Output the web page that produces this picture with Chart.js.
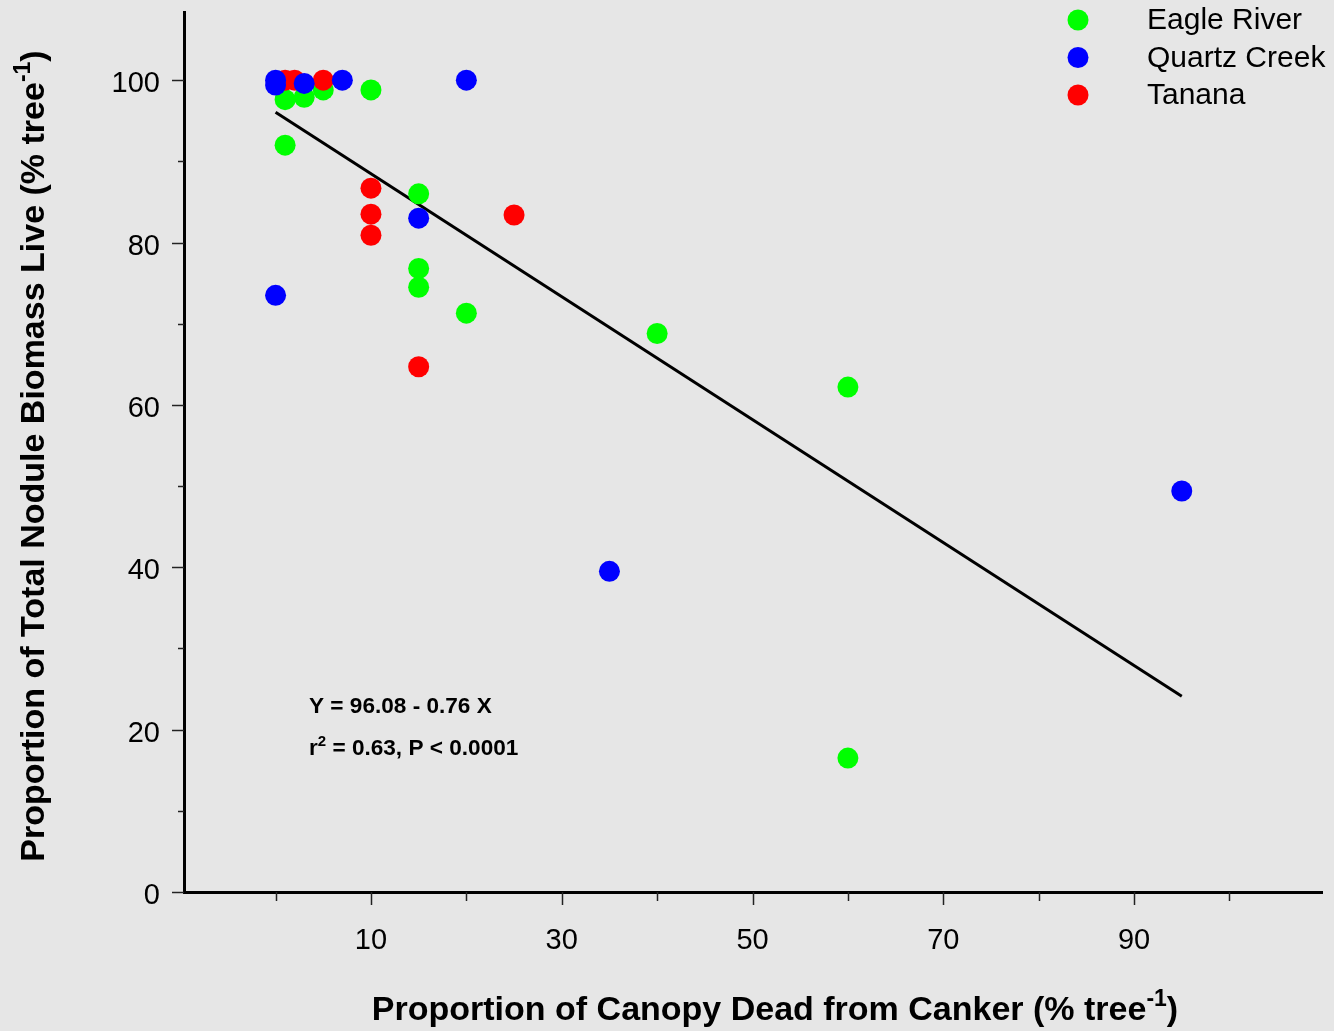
<!DOCTYPE html>
<html>
<head>
<meta charset="utf-8">
<script src="https://cdn.jsdelivr.net/npm/chart.js@4.4.0/dist/chart.umd.min.js"></script>
<style>
html, body { margin: 0; padding: 0; background: #e6e6e6; }
</style>
</head>
<body>
<canvas id="myChart" width="1334" height="1031"></canvas>
<script>
// data
var eagleX = [1, 1, 3, 5, 10, 15, 15, 15, 20, 40, 60, 60];
var eagleY = [97.6, 92.0, 97.9, 98.8, 98.8, 86.0, 76.8, 74.5, 71.3, 68.8, 62.2, 16.5];

var quartzX = [0, 0, 3, 7, 20, 15, 0, 35, 95];
var quartzY = [100, 99.4, 99.6, 100, 100, 83.0, 73.5, 39.5, 49.4];

var tananaX = [1, 2, 5, 10, 10, 10, 25, 15];
var tananaY = [100, 100, 100, 86.7, 83.5, 80.9, 83.4, 64.7];

// fitted line end points
var fitX = [0, 95];
var fitY = [96.06, 24.1];

var seriesNames = ['Eagle River', 'Quartz Creek', 'Tanana'];
var seriesColors = ['#00ff00', '#0000ff', '#ff0000'];

var xTickValues = [0, 10, 20, 30, 40, 50, 60, 70, 80, 90, 100];
var xTickLabels = [10, 30, 50, 70, 90];
var yTickValues = [0, 10, 20, 30, 40, 50, 60, 70, 80, 90, 100];
var yTickLabels = [0, 20, 40, 60, 80, 100];

var eqLine1 = 'Y = 96.08 - 0.76 X';

var FONT = '"Liberation Sans", Arial, sans-serif';

function pts(xs, ys) {
	var out = [];
	for (var i = 0; i < xs.length; i++) out.push({x: xs[i], y: ys[i]});
	return out;
}

// text with a superscript part: [before, sup, after]
function drawSupText(ctx, parts, size, supSize, x, y, align) {
	ctx.font = 'bold ' + size + 'px ' + FONT;
	var w1 = ctx.measureText(parts[0]).width;
	var w3 = ctx.measureText(parts[2]).width;
	ctx.font = 'bold ' + supSize + 'px ' + FONT;
	var w2 = ctx.measureText(parts[1]).width;
	var total = w1 + w2 + w3;
	var sx = align === 'center' ? x - total / 2 : x;
	ctx.textAlign = 'left';
	ctx.textBaseline = 'alphabetic';
	ctx.font = 'bold ' + size + 'px ' + FONT;
	ctx.fillText(parts[0], sx, y);
	ctx.font = 'bold ' + supSize + 'px ' + FONT;
	ctx.fillText(parts[1], sx + w1, y - size * 0.42);
	ctx.font = 'bold ' + size + 'px ' + FONT;
	ctx.fillText(parts[2], sx + w1 + w2, y);
}

var extras = {
	id: 'extras',
	beforeDraw: function(chart) {
		var ctx = chart.ctx;
		ctx.save();
		ctx.fillStyle = '#e6e6e6';
		ctx.fillRect(0, 0, chart.width, chart.height);
		ctx.restore();
	},
	afterDraw: function(chart) {
		var ctx = chart.ctx;
		var xs = chart.scales.x, ys = chart.scales.y;
		var area = chart.chartArea;
		ctx.save();
		ctx.strokeStyle = '#222';
		ctx.lineWidth = 1.5;
		// tick marks
		xTickValues.forEach(function(v) {
			var px = Math.round(xs.getPixelForValue(v)) + 0.5;
			var len = xTickLabels.indexOf(v) >= 0 ? 13 : 9;
			ctx.beginPath();
			ctx.moveTo(px, area.bottom);
			ctx.lineTo(px, area.bottom + len);
			ctx.stroke();
		});
		yTickValues.forEach(function(v) {
			var py = Math.round(ys.getPixelForValue(v)) + 0.5;
			var len = yTickLabels.indexOf(v) >= 0 ? 12 : 6;
			ctx.beginPath();
			ctx.moveTo(area.left, py);
			ctx.lineTo(area.left - len, py);
			ctx.stroke();
		});

		// legend
		ctx.textAlign = 'left';
		ctx.textBaseline = 'middle';
		ctx.font = '30px ' + FONT;
		var rows = [20, 57.5, 95];
		for (var i = 0; i < seriesNames.length; i++) {
			ctx.fillStyle = seriesColors[i];
			ctx.beginPath();
			ctx.arc(1078, rows[i], 10.5, 0, Math.PI * 2);
			ctx.fill();
			ctx.fillStyle = '#000';
			ctx.fillText(seriesNames[i], 1147, rows[i] + 1);
		}

		// equation
		ctx.fillStyle = '#000';
		ctx.font = 'bold 22.6px ' + FONT;
		ctx.textBaseline = 'alphabetic';
		ctx.fillText(eqLine1, 309, 713);
		drawSupText(ctx, ['r', '2', ' = 0.63, P < 0.0001'], 22.6, 15, 309, 755, 'left');

		// axis titles
		drawSupText(ctx, ['Proportion of Canopy Dead from Canker (% tree', '-1', ')'], 34, 23, 775, 1020, 'center');
		ctx.save();
		ctx.translate(44, 456);
		ctx.rotate(-Math.PI / 2);
		drawSupText(ctx, ['Proportion of Total Nodule Biomass Live (% tree', '-1', ')'], 34, 23, 0, 0, 'center');
		ctx.restore();
		ctx.restore();
	}
};

var ctx = document.getElementById('myChart').getContext('2d');
var chart = new Chart(ctx, {
	type: 'scatter',
	data: {
		datasets: [
			{
				label: seriesNames[0],
				data: pts(eagleX, eagleY),
				backgroundColor: seriesColors[0],
				borderWidth: 0,
				pointRadius: 10.5,
				order: 2
			},
			{
				label: seriesNames[1],
				data: pts(quartzX, quartzY),
				backgroundColor: seriesColors[1],
				borderWidth: 0,
				pointRadius: 10.5,
				order: 0
			},
			{
				label: seriesNames[2],
				data: pts(tananaX, tananaY),
				backgroundColor: seriesColors[2],
				borderWidth: 0,
				pointRadius: 10.5,
				order: 1
			},
			{
				label: 'fit',
				data: pts(fitX, fitY),
				showLine: true,
				borderColor: '#000',
				borderWidth: 3,
				pointRadius: 0,
				fill: false,
				order: 3
			}
		]
	},
	options: {
		responsive: false,
		animation: false,
		devicePixelRatio: 1,
		layout: { autoPadding: false, padding: { top: 12, right: 12, left: 0, bottom: 0 } },
		plugins: {
			legend: { display: false },
			tooltip: { enabled: false }
		},
		scales: {
			x: {
				type: 'linear',
				min: -9.6,
				max: 109.7,
				afterBuildTicks: function(scale) {
					scale.ticks = xTickLabels.map(function(v) { return {value: v}; });
				},
				afterFit: function(scale) {
					scale.height = 139;
					scale.paddingLeft = 0;
					scale.paddingRight = 0;
				},
				grid: { display: false, drawTicks: false },
				border: { display: true, color: '#000', width: 3 },
				ticks: {
					padding: 32,
					color: '#000',
					font: { family: FONT, size: 29 }
				}
			},
			y: {
				type: 'linear',
				min: 0,
				max: 108.4,
				afterBuildTicks: function(scale) {
					scale.ticks = yTickLabels.map(function(v) { return {value: v}; });
				},
				afterFit: function(scale) {
					scale.width = 184;
					scale.paddingTop = 0;
					scale.paddingBottom = 0;
				},
				grid: { display: false, drawTicks: false },
				border: { display: true, color: '#000', width: 3 },
				ticks: {
					padding: 24,
					labelOffset: 4,
					color: '#000',
					font: { family: FONT, size: 29 }
				}
			}
		}
	},
	plugins: [extras]
});
</script>
</body>
</html>
